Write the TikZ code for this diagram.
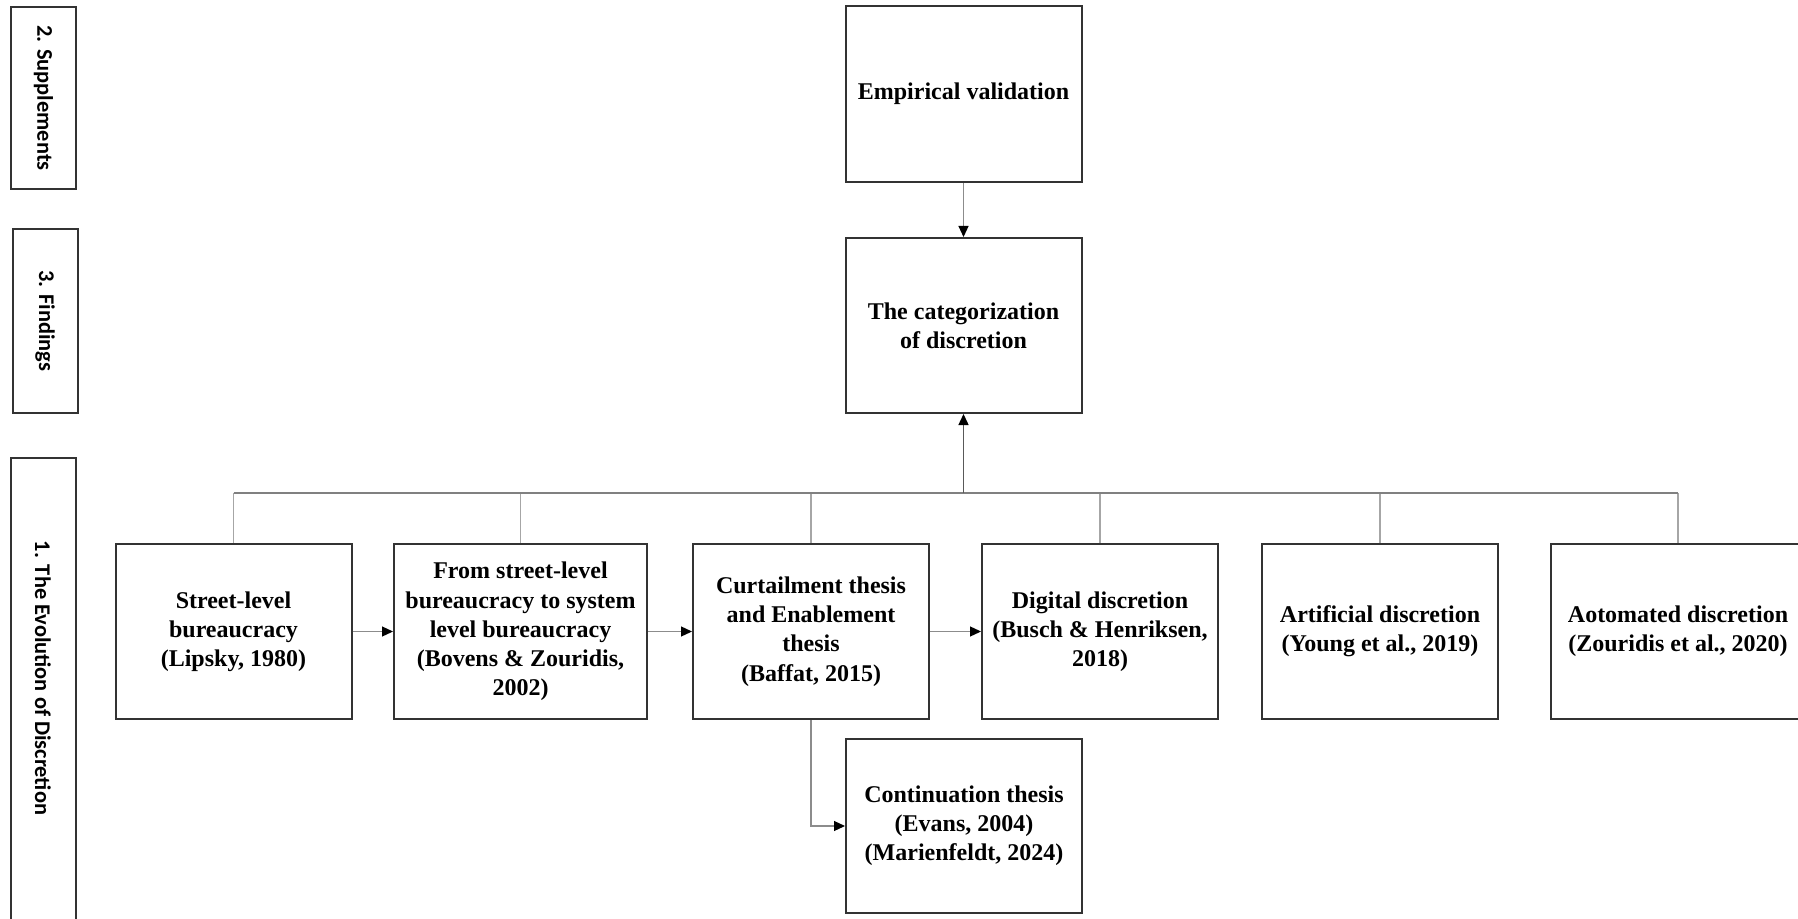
\documentclass[tikz,border=0pt]{standalone}
\usepackage{fontspec}
\setmainfont{Liberation Serif}
\newfontfamily\tabfont{Carlito}
\usetikzlibrary{arrows.meta}
\begin{document}
\begin{tikzpicture}[x=0.5pt,y=-0.5pt,
  stage/.style={draw=black!80, line width=1pt, align=center, inner sep=0pt,
    font=\fontsize{12}{14.6}\selectfont\bfseries,
    minimum width=118pt, minimum height=87.5pt},
  tab/.style={draw=black!80, line width=1pt, rotate=-90, inner sep=0pt,
    font=\tabfont\fontsize{11.2}{13}\selectfont\bfseries, minimum height=32.5pt},
  tabtext/.style={rotate=-90, inner sep=0pt, font=\tabfont\fontsize{11.2}{13}\selectfont\bfseries},
  link/.style={draw=black!45, line width=0.6pt},
  feeder/.style={draw=black!35, line width=0.6pt},
  busline/.style={draw=black!50, line width=0.8pt},
  arrow/.style={link, -{Triangle[length=5.5pt,width=5pt,color=black]}},
  stem/.style={draw=black!65, line width=0.7pt, -{Triangle[length=5.5pt,width=5pt,color=black]}}
]
\clip (0,0) rectangle (1798,919);
\fill[white] (0,0) rectangle (1798,919);

% section tabs on the left
\node[tab, minimum width=91pt] (supp) at (43.5,98) {2. Supplements};
\node[tab, minimum width=92pt] (find) at (45,321) {3. Findings};
\node[tab, minimum width=236pt] (evol) at (43,694) {};
\node[tabtext] (evoltext) at (43,678) {1. The Evolution of Discretion};

% upper column
\node[stage, minimum height=88pt] (emp) at (963.5,94) {Empirical validation};
\node[stage] (cat) at (963.5,325.5) {The categorization\\of discretion};

% row of stages
\node[stage] (street) at (233.5,631.5) {Street-level\\bureaucracy\\(Lipsky, 1980)};
\node[stage, minimum width=126.5pt] (from) at (520.5,631.5) {From street-level\\bureaucracy to system\\level bureaucracy\\(Bovens \& Zouridis,\\2002)};
\node[stage] (curt) at (811,631.5) {Curtailment thesis\\and Enablement\\thesis\\(Baffat, 2015)};
\node[stage] (dig) at (1100,631.5) {Digital discretion\\(Busch \& Henriksen,\\2018)};
\node[stage] (art) at (1380,631.5) {Artificial discretion\\(Young et al., 2019)};
\node[stage, minimum width=127pt] (auto) at (1678,631.5) {Aotomated discretion\\(Zouridis et al., 2020)};
\node[stage, minimum height=87pt] (cont) at (964,826) {Continuation thesis\\(Evans, 2004)\\(Marienfeldt, 2024)};

% collecting bus
\coordinate (bus) at (963.5,493);
\foreach \n in {street,from,curt,dig,art,auto}
  \draw[feeder] (\n.north) -- (\n.north |- bus);
\draw[busline] (street.north |- bus) -- (auto.north |- bus);
\draw[stem] (bus) -- (cat.south);
\draw[arrow] (emp.south) -- (cat.north);

% sequence arrows
\draw[arrow] (street.east) -- (from.west);
\draw[arrow] (from.east) -- (curt.west);
\draw[arrow] (curt.east) -- (dig.west);
\draw[arrow] (curt.south) |- (cont.west);
\end{tikzpicture}
\end{document}
